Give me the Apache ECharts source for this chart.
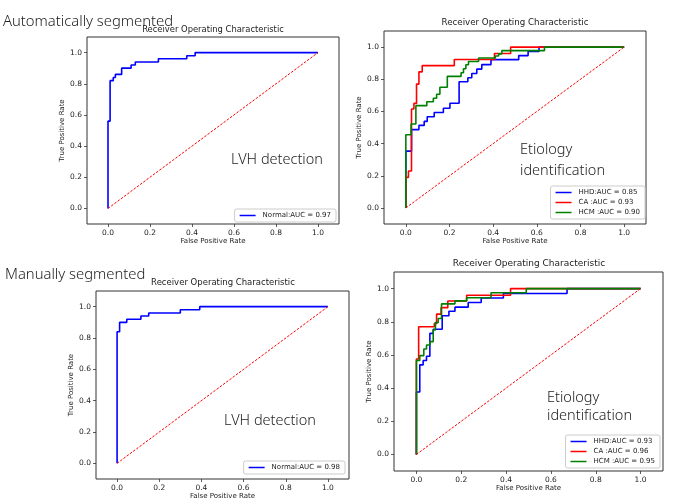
<!DOCTYPE html>
<html>
<head>
<meta charset="utf-8">
<script src="https://cdn.jsdelivr.net/npm/echarts@6/dist/echarts.min.js"></script>
<style>
  html, body { margin: 0; padding: 0; background: #fff; }
  #chart { width: 676px; height: 502px; }
</style>
</head>
<body>
<div id="chart"></div>
<script>
// ROC corner points (fpr, tpr)
// top-left: automatically segmented, LVH detection
const autoNormalFpr = [0, 0, 0.01, 0.01, 0.025, 0.025, 0.035, 0.035, 0.065, 0.065, 0.11, 0.11, 0.13, 0.13, 0.24, 0.24, 0.375, 0.375, 0.415, 0.415, 1];
const autoNormalTpr = [0, 0.56, 0.56, 0.82, 0.82, 0.84, 0.84, 0.86, 0.86, 0.90, 0.90, 0.92, 0.92, 0.94, 0.94, 0.96, 0.96, 0.98, 0.98, 1, 1];

// top-right: automatically segmented, etiology
const autoHhdFpr = [0, 0, 0.026, 0.026, 0.06, 0.06, 0.084, 0.084, 0.098, 0.098, 0.13, 0.13, 0.172, 0.172, 0.202, 0.202, 0.244, 0.244, 0.284, 0.284, 0.302, 0.302, 0.325, 0.325, 0.348, 0.348, 0.39, 0.39, 0.517, 0.517, 0.56, 0.56, 0.61, 0.61, 1];
const autoHhdTpr = [0, 0.353, 0.353, 0.487, 0.487, 0.513, 0.513, 0.538, 0.538, 0.567, 0.567, 0.593, 0.593, 0.62, 0.62, 0.651, 0.651, 0.784, 0.784, 0.809, 0.809, 0.836, 0.836, 0.863, 0.863, 0.891, 0.891, 0.922, 0.922, 0.947, 0.947, 0.973, 0.973, 1, 1];
const autoCaFpr = [0, 0, 0.012, 0.012, 0.026, 0.026, 0.037, 0.037, 0.049, 0.049, 0.06, 0.06, 0.075, 0.075, 0.222, 0.222, 0.406, 0.406, 0.48, 0.48, 1];
const autoCaTpr = [0, 0.19, 0.19, 0.23, 0.23, 0.615, 0.615, 0.65, 0.65, 0.77, 0.77, 0.846, 0.846, 0.885, 0.885, 0.923, 0.923, 0.96, 0.96, 1, 1];
const autoHcmFpr = [0, 0, 0.024, 0.024, 0.046, 0.046, 0.096, 0.096, 0.126, 0.126, 0.141, 0.141, 0.156, 0.156, 0.19, 0.19, 0.253, 0.253, 0.264, 0.264, 0.275, 0.275, 0.287, 0.287, 0.333, 0.333, 0.41, 0.41, 0.425, 0.425, 0.44, 0.44, 0.635, 0.635, 1];
const autoHcmTpr = [0, 0.455, 0.455, 0.522, 0.522, 0.636, 0.636, 0.66, 0.66, 0.682, 0.682, 0.707, 0.707, 0.75, 0.75, 0.818, 0.818, 0.84, 0.84, 0.865, 0.865, 0.89, 0.89, 0.91, 0.91, 0.932, 0.932, 0.945, 0.945, 0.958, 0.958, 0.978, 0.978, 1, 1];

// bottom-left: manually segmented, LVH detection
const manNormalFpr = [0, 0, 0.012, 0.012, 0.046, 0.046, 0.113, 0.113, 0.15, 0.15, 0.30, 0.30, 0.392, 0.392, 1];
const manNormalTpr = [0, 0.84, 0.84, 0.90, 0.90, 0.92, 0.92, 0.94, 0.94, 0.96, 0.96, 0.98, 0.98, 1, 1];

// bottom-right: manually segmented, etiology
const manHhdFpr = [0, 0, 0.015, 0.015, 0.03, 0.03, 0.045, 0.045, 0.06, 0.06, 0.075, 0.075, 0.115, 0.115, 0.145, 0.145, 0.172, 0.172, 0.231, 0.231, 0.289, 0.289, 0.388, 0.388, 0.672, 0.672, 1];
const manHhdTpr = [0, 0.376, 0.376, 0.54, 0.54, 0.566, 0.566, 0.592, 0.592, 0.73, 0.73, 0.755, 0.755, 0.836, 0.836, 0.863, 0.863, 0.888, 0.888, 0.916, 0.916, 0.943, 0.943, 0.97, 0.97, 1, 1];
const manCaFpr = [0, 0, 0.01, 0.01, 0.08, 0.08, 0.09, 0.09, 0.11, 0.11, 0.14, 0.14, 0.224, 0.224, 0.42, 0.42, 1];
const manCaTpr = [0, 0.575, 0.575, 0.77, 0.77, 0.79, 0.79, 0.846, 0.846, 0.885, 0.885, 0.925, 0.925, 0.96, 0.96, 1, 1];
const manHcmFpr = [0, 0, 0.015, 0.015, 0.033, 0.033, 0.045, 0.045, 0.06, 0.06, 0.075, 0.075, 0.085, 0.085, 0.097, 0.097, 0.112, 0.112, 0.172, 0.172, 0.224, 0.224, 0.333, 0.333, 0.49, 0.49, 1];
const manHcmTpr = [0, 0.566, 0.566, 0.596, 0.596, 0.636, 0.636, 0.66, 0.66, 0.68, 0.68, 0.75, 0.75, 0.795, 0.795, 0.82, 0.82, 0.908, 0.908, 0.926, 0.926, 0.945, 0.945, 0.975, 0.975, 1, 1];

const chanceFpr = [0, 1];
const chanceTpr = [0, 1];

const tickValues = [0, 0.2, 0.4, 0.6, 0.8, 1.0];

const panelTitle = 'Receiver Operating Characteristic';
const xName = 'False Positive Rate';
const yName = 'True Positive Rate';

const FONT = 'DejaVu Sans';

function zip(xs, ys) {
  return xs.map((x, i) => [x, ys[i]]);
}

// plot frames in page pixels
const frames = [
  { left: 87, top: 37, width: 252, height: 187 },
  { left: 384, top: 31, width: 262, height: 193 },
  { left: 96, top: 291, width: 253, height: 188 },
  { left: 394, top: 272, width: 269, height: 199 }
];

function axis(kind, gi) {
  return {
    type: 'value',
    gridIndex: gi,
    min: -0.1,
    max: 1.1,
    position: kind === 'x' ? 'bottom' : 'left',
    name: kind === 'x' ? xName : yName,
    nameLocation: 'middle',
    nameGap: kind === 'x' ? 14 : 19,
    nameTextStyle: { fontFamily: FONT, fontSize: 7, color: '#222' },
    axisLine: { show: false, onZero: false },
    splitLine: { show: false },
    axisTick: { show: true, inside: false, length: 3, customValues: tickValues, lineStyle: { color: '#333', width: 0.8 } },
    axisLabel: {
      customValues: tickValues,
      margin: 5,
      fontFamily: FONT,
      fontSize: 7.5,
      color: '#222',
      formatter: v => v.toFixed(1)
    }
  };
}

function roc(name, gi, data, color) {
  return {
    name: name,
    type: 'line',
    xAxisIndex: gi,
    yAxisIndex: gi,
    data: data,
    showSymbol: false,
    symbol: 'none',
    lineStyle: { color: color, width: 1.6 },
    itemStyle: { color: color },
    animation: false
  };
}

function chance(gi) {
  return {
    type: 'line',
    xAxisIndex: gi,
    yAxisIndex: gi,
    data: zip(chanceFpr, chanceTpr),
    showSymbol: false,
    symbol: 'none',
    lineStyle: { color: '#ff0000', width: 1, type: [2.5, 1.5] },
    animation: false,
    silent: true
  };
}

function legend(names, right, bottom) {
  return {
    data: names,
    orient: 'vertical',
    right: right,
    bottom: bottom,
    icon: 'rect',
    itemWidth: 16,
    itemHeight: 1.5,
    itemGap: 3,
    padding: [3, 5, 3, 5],
    backgroundColor: '#fff',
    borderColor: '#ccc',
    borderWidth: 1,
    borderRadius: 2,
    textStyle: { fontFamily: FONT, fontSize: 7, color: '#222', padding: [0, 0, 0, 2] }
  };
}

function text(str, x, y, size, opts) {
  return Object.assign({
    type: 'text',
    x: x,
    y: y,
    style: { text: str, fontFamily: 'Noto Sans', fontWeight: 300, fontSize: size, fill: '#222', textAlign: 'left', textVerticalAlign: 'alphabetic' }
  }, opts || {});
}

function title(cx, cy, size) {
  return {
    type: 'text',
    x: cx,
    y: cy,
    style: { text: panelTitle, fontFamily: FONT, fontSize: size, fill: '#222', textAlign: 'center', textVerticalAlign: 'middle' }
  };
}

const option = {
  backgroundColor: '#fff',
  animation: false,
  grid: frames.map(f => Object.assign({ show: true, borderColor: '#333', borderWidth: 1, backgroundColor: 'transparent' }, f)),
  xAxis: [0, 1, 2, 3].map(i => axis('x', i)),
  yAxis: [0, 1, 2, 3].map(i => axis('y', i)),
  legend: [
    legend(['Normal:AUC = 0.97'], 340, 280),
    legend(['HHD:AUC = 0.85', 'CA :AUC = 0.93', 'HCM :AUC = 0.90'], 31, 283),
    legend(['Normal:AUC = 0.98'], 331, 28),
    legend(['HHD:AUC = 0.93', 'CA :AUC = 0.96', 'HCM :AUC = 0.95'], 16, 34)
  ],
  series: [
    roc('Normal:AUC = 0.97', 0, zip(autoNormalFpr, autoNormalTpr), '#0000ff'),
    chance(0),
    roc('HHD:AUC = 0.85', 1, zip(autoHhdFpr, autoHhdTpr), '#0000ff'),
    roc('CA :AUC = 0.93', 1, zip(autoCaFpr, autoCaTpr), '#ff0000'),
    roc('HCM :AUC = 0.90', 1, zip(autoHcmFpr, autoHcmTpr), '#008000'),
    chance(1),
    roc('Normal:AUC = 0.98', 2, zip(manNormalFpr, manNormalTpr), '#0000ff'),
    chance(2),
    roc('HHD:AUC = 0.93', 3, zip(manHhdFpr, manHhdTpr), '#0000ff'),
    roc('CA :AUC = 0.96', 3, zip(manCaFpr, manCaTpr), '#ff0000'),
    roc('HCM :AUC = 0.95', 3, zip(manHcmFpr, manHcmTpr), '#008000'),
    chance(3)
  ],
  graphic: [
    text('Automatically segmented', 3, 14, 14.8),
    text('Manually segmented', 5, 267, 14.8),
    title(213, 30, 8.4),
    title(515, 23, 8.7),
    title(223, 283, 8.5),
    title(529, 264, 9),
    text('LVH detection', 231, 152, 14.5),
    text('Etiology', 520, 142, 14.5),
    text('identification', 520, 163, 14.5),
    text('LVH detection', 224, 413, 14.5),
    text('Etiology', 547, 390, 14.5),
    text('identification', 547, 408, 14.5)
  ]
};

const chart = echarts.init(document.getElementById('chart'), null, { renderer: 'canvas' });
chart.setOption(option);
</script>
</body>
</html>
